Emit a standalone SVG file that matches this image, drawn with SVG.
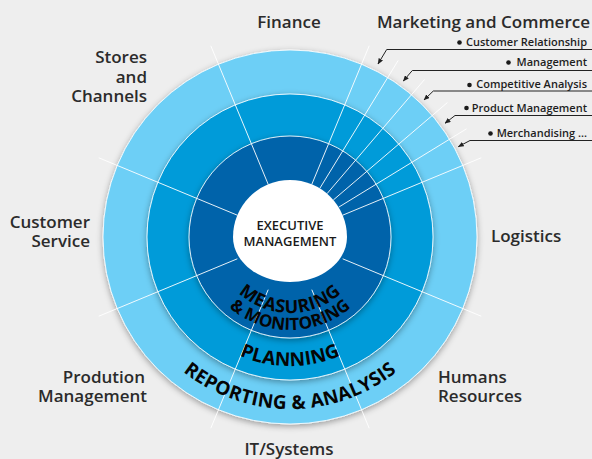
<svg xmlns="http://www.w3.org/2000/svg" width="592" height="459" viewBox="0 0 592 459">
<style>
.lbl{font-family:"Open Sans","Liberation Sans",sans-serif;font-weight:600;font-size:17px;fill:#2b2b2b}
.sub{font-size:11px;fill:#1e1e1e}
.ring{font-family:"Open Sans","Liberation Sans",sans-serif;font-weight:700;fill:#050505}
.ctr{font-family:"Open Sans","Liberation Sans",sans-serif;font-weight:600;font-size:13px;fill:#1a1a1a}
.rad{stroke:#ffffff;stroke-width:1;fill:none;stroke-opacity:0.9}
.disc{stroke:#ffffff;stroke-width:1;stroke-opacity:0.85}
.call{stroke:#222222;stroke-width:1;fill:none}
.dot{fill:#1a1a1a}
</style>
<defs>
<filter id="sh" x="-20%" y="-20%" width="140%" height="140%">
<feGaussianBlur in="SourceAlpha" stdDeviation="3"/>
<feOffset dx="0" dy="1.5" result="b"/>
<feFlood flood-color="#000" flood-opacity="0.35"/>
<feComposite in2="b" operator="in"/>
<feMerge><feMergeNode/><feMergeNode in="SourceGraphic"/></feMerge>
</filter>
<marker id="ah" markerWidth="6" markerHeight="5" refX="5.5" refY="2.5" orient="auto" markerUnits="userSpaceOnUse"><path d="M0,0 L6,2.5 L0,5 z" fill="#222"/></marker>
<path id="pRep" d="M118,237 A172,172 0 0 0 462,237"/>
<path id="pPlan" d="M161,237 A129,129 0 0 0 419,237"/>
<path id="pMon" d="M197,237 A93,93 0 0 0 383,237"/>
<path id="pMea" d="M214,237 A76,76 0 0 0 366,237"/>
</defs>
<rect x="0" y="0" width="592" height="459" fill="#eeeeee"/>
<g id="rings">
<circle class="disc" cx="290" cy="237" r="187" fill="#6dcff6" filter="url(#sh)"/>
<circle class="disc" cx="290" cy="237" r="143" fill="#009bd9" filter="url(#sh)"/>
<circle class="disc" cx="290" cy="237" r="101" fill="#0063aa" filter="url(#sh)"/>
</g>
<g id="sectors">
<line class="rad" x1="342.66" y1="215.19" x2="481.24" y2="157.79"/>
<line class="rad" x1="338.60" y1="207.22" x2="466.50" y2="128.84"/>
<line class="rad" x1="333.34" y1="199.98" x2="447.40" y2="102.56"/>
<line class="rad" x1="327.02" y1="193.66" x2="424.44" y2="79.60"/>
<line class="rad" x1="319.78" y1="188.40" x2="398.16" y2="60.50"/>
<line class="rad" x1="311.81" y1="184.34" x2="369.21" y2="45.76"/>
<line class="rad" x1="268.19" y1="184.34" x2="210.79" y2="45.76"/>
<line class="rad" x1="237.34" y1="215.19" x2="98.76" y2="157.79"/>
<line class="rad" x1="237.34" y1="258.81" x2="98.76" y2="316.21"/>
<line class="rad" x1="268.19" y1="289.66" x2="210.79" y2="428.24"/>
<line class="rad" x1="311.81" y1="289.66" x2="369.21" y2="428.24"/>
<line class="rad" x1="342.66" y1="258.81" x2="481.24" y2="316.21"/>
</g>
<g id="executive">
<path d="M233,237 A57,57 0 0 1 347,237 C347,262 321,282 290,282 C259,282 233,262 233,237 Z" fill="#ffffff"/>
<text class="ctr" x="290" y="230" text-anchor="middle">EXECUTIVE</text>
<text class="ctr" x="290" y="246" text-anchor="middle">MANAGEMENT</text>
</g>
<g id="measuring">
<text class="ring" font-size="18" letter-spacing="0.5"><textPath href="#pMea" startOffset="50%" text-anchor="middle">MEASURING</textPath></text>
<text class="ring" font-size="17"><textPath href="#pMon" startOffset="50%" text-anchor="middle">&amp; MONITORING</textPath></text>
</g>
<g id="planning">
<text class="ring" font-size="19" letter-spacing="0.2"><textPath href="#pPlan" startOffset="50%" text-anchor="middle">PLANNING</textPath></text>
</g>
<g id="reporting">
<text class="ring" font-size="19" letter-spacing="0.3"><textPath href="#pRep" startOffset="50%" text-anchor="middle">REPORTING &amp; ANALYSIS</textPath></text>
</g>
<g id="finance"><text class="lbl" x="289" y="28" text-anchor="middle">Finance</text></g>
<g id="marketing"><text class="lbl" x="590" y="28" text-anchor="end">Marketing and Commerce</text></g>
<g id="stores">
<text class="lbl" x="147" y="63" text-anchor="end">Stores</text>
<text class="lbl" x="147" y="83" text-anchor="end">and</text>
<text class="lbl" x="147" y="102" text-anchor="end">Channels</text>
</g>
<g id="customer">
<text class="lbl" x="90" y="228" text-anchor="end">Customer</text>
<text class="lbl" x="90" y="247" text-anchor="end">Service</text>
</g>
<g id="logistics"><text class="lbl" x="491" y="242">Logistics</text></g>
<g id="production">
<text class="lbl" x="145" y="383" text-anchor="end">Prodution</text>
<text class="lbl" x="147" y="402" text-anchor="end">Management</text>
</g>
<g id="humans">
<text class="lbl" x="438" y="383">Humans</text>
<text class="lbl" x="438" y="402">Resources</text>
</g>
<g id="it"><text class="lbl" x="289" y="455" text-anchor="middle">IT/Systems</text></g>
<g id="subitems">
<circle class="dot" cx="459.5" cy="42.5" r="2.3"/><text class="lbl sub" x="587" y="46" text-anchor="end">Customer Relationship</text>
<circle class="dot" cx="508.5" cy="62.5" r="2.3"/><text class="lbl sub" x="587" y="66" text-anchor="end">Management</text>
<circle class="dot" cx="469.5" cy="85" r="2.3"/><text class="lbl sub" x="587" y="88" text-anchor="end">Competitive Analysis</text>
<circle class="dot" cx="466.5" cy="108" r="2.3"/><text class="lbl sub" x="587" y="111.5" text-anchor="end">Product Management</text>
<circle class="dot" cx="490.5" cy="133.5" r="2.3"/><text class="lbl sub" x="587" y="137" text-anchor="end">Merchandising ...</text>
</g>
<g id="connectors">
<polyline class="call" points="592,49.5 386.7,49.5 378,64" marker-end="url(#ah)"/>
<polyline class="call" points="592,70.5 412.3,70.5 403.3,81" marker-end="url(#ah)"/>
<polyline class="call" points="592,91 433.3,91 424,100" marker-end="url(#ah)"/>
<polyline class="call" points="592,115.5 455,115.5 445,123.3" marker-end="url(#ah)"/>
<polyline class="call" points="592,140.5 470,140.5 458.3,146.7" marker-end="url(#ah)"/>
</g>
</svg>
